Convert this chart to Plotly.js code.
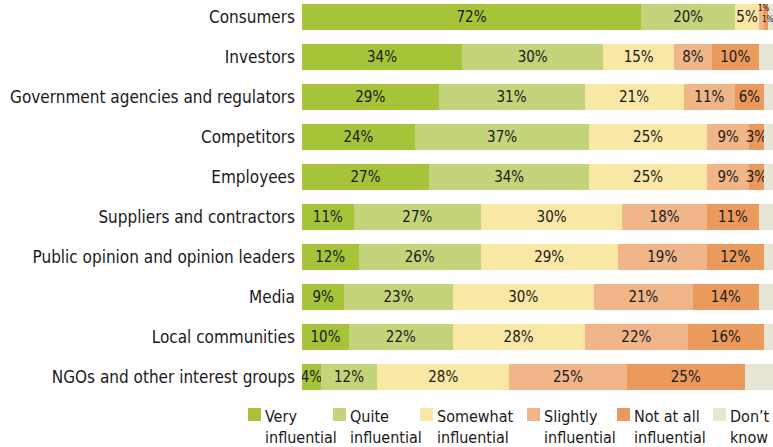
<!DOCTYPE html>
<html><head><meta charset="utf-8">
<script src="https://cdn.plot.ly/plotly-3.0.1.min.js"></script>
<style>html,body{margin:0;padding:0;background:#fff}#chart{width:773px;height:447px}</style>
</head><body><div id="chart"></div>
<script>
const categories = ["Consumers","Investors","Government agencies and regulators","Competitors","Employees","Suppliers and contractors","Public opinion and opinion leaders","Media","Local communities","NGOs and other interest groups"];
const seriesNames = ["Very<br>influential","Quite<br>influential","Somewhat<br>influential","Slightly<br>influential","Not at all<br>influential","Don\u2019t<br>know"];
const veryInfluential     = [72,34,29,24,27,11,12,9,10,4];
const quiteInfluential    = [20,30,31,37,34,27,26,23,22,12];
const somewhatInfluential = [5,15,21,25,25,30,29,30,28,28];
const slightlyInfluential = [1,8,11,9,9,18,19,21,22,25];
const notAtAllInfluential = [1,10,6,3,3,11,12,14,16,25];
const dontKnow            = [1,3,2,2,2,3,2,3,2,6];
const colors = ["#a6c43a","#c3d47b","#f9e7a6","#f0b589","#ea9a5d","#e7e6d6"];

const FONT = "'DejaVu Sans Condensed','Liberation Sans Narrow','Roboto Condensed',sans-serif";
const series = [veryInfluential,quiteInfluential,somewhatInfluential,slightlyInfluential,notAtAllInfluential,dontKnow];
const traces = series.map((vals,k)=>({
  type:'bar', orientation:'h', x:vals, y:categories, name:seriesNames[k],
  marker:{color:colors[k], line:{width:0}},
  text: vals.map((v,i)=> (k===5 || (i===0 && (k===3||k===4))) ? '' : v+'%'),
  textposition:'inside', insidetextanchor:'middle', textangle:0, constraintext:'none',
  textfont:{family:FONT, size:15, color:'#1a1a1a'},
  hoverinfo:'none', showlegend:false
}));

const W=773, L=302, PW=471, PH=400;
const px = x => (x-L)/PW, py = y => (PH-y)/PH;
const shapes=[], annotations=[];
const legendX=[248,333,420,527,617,713];
legendX.forEach((lx,k)=>{
  shapes.push({type:'rect', xref:'paper', yref:'paper', x0:px(lx), x1:px(lx+13), y0:py(421), y1:py(408), fillcolor:colors[k], line:{width:0}});
  annotations.push({xref:'paper', yref:'paper', x:px(lx+15), y:py(405), xanchor:'left', yanchor:'top', align:'left', showarrow:false, text:seriesNames[k], font:{family:FONT, size:16, color:'#1a1a1a'}});
});
// tiny labels on Consumers bar
annotations.push({x:veryInfluential[0]+quiteInfluential[0]+somewhatInfluential[0]+slightlyInfluential[0]/2, y:categories[0], xshift:3, yshift:9, text:slightlyInfluential[0]+'%', showarrow:false, borderpad:0, font:{family:FONT,size:8,color:'#1a1a1a'}});
annotations.push({x:veryInfluential[0]+quiteInfluential[0]+somewhatInfluential[0]+slightlyInfluential[0]+notAtAllInfluential[0]/2, y:categories[0], xshift:2, yshift:-2, text:notAtAllInfluential[0]+'%', showarrow:false, borderpad:0, font:{family:FONT,size:8,color:'#1a1a1a'}});

const layout = {
  width:W, height:447, barmode:'stack', bargap:0.35,
  margin:{l:L, r:0, t:0, b:47, pad:0},
  paper_bgcolor:'#fff', plot_bgcolor:'#fff',
  xaxis:{range:[0,100], showgrid:false, zeroline:false, showticklabels:false, showline:false, fixedrange:true},
  yaxis:{type:'category', range:[9.575,-0.425], showgrid:false, zeroline:false, showline:false, ticks:'', ticklabelstandoff:6,
         tickfont:{family:FONT, size:17, color:'#1a1a1a'}, fixedrange:true},
  shapes:shapes, annotations:annotations, showlegend:false
};
Plotly.newPlot('chart', traces, layout, {displayModeBar:false, staticPlot:true});
</script></body></html>
